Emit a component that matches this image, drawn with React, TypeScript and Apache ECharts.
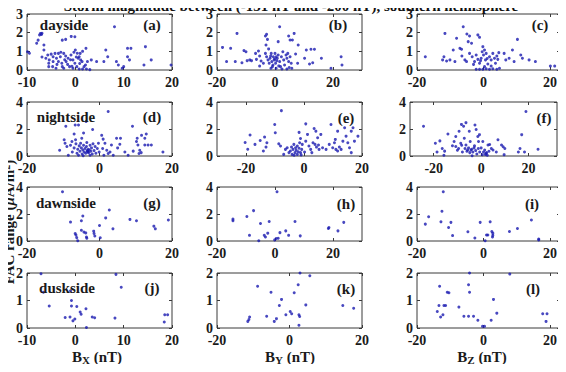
import React, { useEffect, useRef } from "react";
import * as echarts from "echarts";

const TITLE = "Storm magnitude between (-151 nT and -200 nT), southern hemisphere";
const SECTORS = ["dayside", "nightside", "dawnside", "duskside"];
const TAGS = ["(a)", "(b)", "(c)", "(d)", "(e)", "(f)", "(g)", "(h)", "(i)", "(j)", "(k)", "(l)"];
const X_COMPONENTS = ["X", "Y", "Z"];

const X_MIN = [-10, -20, -20, -20, -30, -30, -20, -20, -20, -10, -20, -20];
const X_MAX = [20, 30, 23, 20, 20, 32, 20, 30, 23, 20, 20, 23];
const X_TICKS_10 = [-10, 0, 10, 20];
const X_TICKS_20 = [-20, 0, 20];
const Y_MAX = [3, 4, 4, 2];
const Y_TICKS = [[0, 1, 2, 3], [0, 2, 4], [0, 2, 4], [0, 1, 2]];

const dataA = [[-9.9,0.98],[-9.5,0.9],[-8,1.43],[-7.7,1.6],[-7.4,1.88],[-7.2,1.96],[-6.9,1.97],[-7.0,1.9],[-6.5,1.34],[-6.5,1.07],[-6.9,0.7],[-6.1,0.63],[-5.7,0.8],[-5.4,0.54],[-5.5,0.36],[-5.0,0.85],[-4.6,0.71],[-4.6,0.45],[-4.2,0.89],[-3.9,0.63],[-3.5,0.89],[-3.5,0.45],[-3.1,0.71],[-2.8,0.36],[-2.4,0.89],[-2.7,0.18],[-1.9,0.45],[-1.5,0.63],[-1.2,0.18],[-0.9,0.8],[-0.5,0.54],[-0.1,0.36],[0.3,0.18],[0.6,0.63],[1.0,0.89],[1.4,0.45],[1.8,0.18],[2.1,0.27],[-0.5,0.09],[-2.4,0.09],[-4.0,0.09],[-4.7,0.18],[-2.7,1.6],[-2.0,1.64],[-0.85,1.8],[-0.1,1.78],[0.0,1.07],[0.4,0.9],[0.8,0.71],[1.1,0.54],[2.2,1.16],[2.5,0.45],[3.3,0.54],[4.4,0.45],[2.3,0.05],[1.5,0.05],[0.8,0.05],[3.0,0.02],[5.9,0.45],[6.3,1.07],[6.7,0.71],[8.1,2.32],[8.5,0.45],[8.9,0.27],[9.7,0.09],[10.0,0.18],[10.8,1.16],[11.5,1.16],[10.8,0.71],[11.2,0.54],[14.2,0.27],[14.5,1.25],[15.7,0.54],[19.8,0.27],[-3.0,0.95],[-2.0,0.75],[-1.0,0.55],[0.2,0.7],[-0.3,0.95],[1.5,1.0],[-3.8,0.3],[-1.6,0.3],[-0.7,0.2],[-5.5,0.18],[-2.2,0.55],[0.9,0.35]];

const dataB = [[-18.1,1.21],[-16.7,0.45],[-15.3,1.16],[-13.1,1.96],[-13.7,0.45],[-11.4,0.39],[-10.7,1.04],[-10,0.98],[-9.6,0.5],[-8.7,0.54],[-8.1,0.5],[-6.7,0.89],[-6.4,0.57],[-5.7,1.02],[-5.3,0.75],[-5.3,0.21],[-4.8,0.48],[-4,0.36],[-3.3,1.82],[-2.9,1.91],[-2.6,1.64],[-3.1,1.34],[-2.2,1.13],[-3.3,0.89],[-2.9,0.71],[-2.4,0.54],[-2,0.36],[-1.7,0.63],[-1.3,0.89],[-1.1,0.45],[-0.9,0.18],[-0.6,0.71],[-0.3,0.54],[0,0.89],[0.2,0.36],[0.4,0.71],[0.8,0.63],[1.1,0.8],[1.6,2.32],[1.1,1.52],[1.6,0.45],[1.9,0.18],[2.2,0.71],[2.7,0.98],[3,0.54],[3.3,0.27],[3.8,0.8],[4.1,0.63],[4.4,0.89],[4.7,0.45],[4.9,0.13],[5.2,0.71],[5.6,0.36],[4.7,1.82],[5.2,1.61],[6,1.61],[6.6,1.96],[7.1,0.86],[8,1.34],[7.8,0.36],[10.2,0.63],[10.8,1.07],[12.4,1.11],[13.6,1.11],[11.9,0.32],[13,0.39],[16,0.63],[19.3,0.09],[22.8,0.71],[23.1,0.27],[-1.4,0.09],[0.4,0.09],[2.4,0.05],[4.1,0.05],[5.8,0.09],[-0.7,0.27],[1.3,0.22],[-0.1,0.6],[0.6,0.5],[-1.5,0.75]];

const dataC = [[-17.5,0.71],[-12.3,0.54],[-11.9,0.71],[-11.1,0.48],[-10.1,0.54],[-11.6,1.96],[-9.1,1.07],[-8.6,0.45],[-8.1,1.7],[-7.1,1.16],[-6.6,1.11],[-6.1,2.32],[-5,1.93],[-4.2,1.82],[-4.6,1.52],[-3.6,1.43],[-1.7,1.88],[-1.2,1.75],[-5.6,0.54],[-5.1,0.45],[-4.2,0.89],[-3.4,0.71],[-2.7,0.45],[-2.2,0.8],[-1.7,0.57],[-1.2,0.36],[-0.7,0.63],[-0.4,0.98],[-0.2,1.25],[0,0.8],[0.3,1.07],[0.6,0.54],[0.8,0.89],[1.3,0.32],[1.8,0.71],[2.3,0.54],[2.8,0.89],[3.3,0.63],[3.6,0.36],[4,0.75],[4.3,0.57],[4.6,0.93],[-2.2,0.04],[-1.2,0.04],[-0.2,0.04],[0.8,0.07],[1.8,0.04],[2.8,0.07],[4,0.04],[4.8,0.09],[0.3,0.18],[2.3,0.21],[6.2,0.89],[6.7,0.54],[7.7,0.63],[8.7,1.07],[9.2,0.45],[10.2,1.64],[11.2,0.8],[11.7,0.63],[13.7,0.54],[15.6,0.45],[20.1,0.21],[21.4,0.21],[-0.9,0.5],[1.1,0.62],[-3.0,0.3],[-6.5,0.75]];

const dataD = [[-11,0.43],[-9.75,1.2],[-9.3,2.2],[-9.5,0.95],[-9,0.7],[-8.6,0.05],[-6.7,2.3],[-5.8,2.3],[-7,1.63],[-7.6,1.07],[-4.9,1.32],[-4.4,1.7],[-3.7,2.55],[-1.9,1.96],[2.4,3.3],[-8,0.8],[-7.5,0.3],[-7,0.6],[-6.5,0.9],[-6.2,0.2],[-6,0.5],[-5.6,0.75],[-5.4,0.35],[-5.2,0.95],[-5,0.6],[-4.8,0.15],[-4.6,0.45],[-4.4,0.8],[-4.2,0.3],[-4,0.55],[-3.8,0.2],[-3.6,0.7],[-3.4,0.4],[-3.3,0.36],[-3.2,0.3],[-3.1,0.5],[-3,0.25],[-2.8,0.45],[-2.6,0.8],[-2.4,0.35],[-2.2,0.6],[-2,0.15],[-1.8,0.9],[-1.5,0.4],[-1.2,0.7],[-1,0.2],[-0.6,0.55],[-0.3,0.95],[-0.1,0.3],[-5.8,0.05],[-4.5,0.02],[-2.6,0.05],[-3.5,1.0],[-6.6,1.2],[0.6,1.53],[1.0,1.25],[1.5,0.94],[0.86,0.56],[2,0.43],[2.9,0.3],[3.3,0.82],[2.4,0.18],[1.2,0.05],[4.7,1.32],[5.8,1.32],[5.6,0.87],[7,0.3],[7.9,0.05],[9.1,2.2],[9.3,0.36],[10.2,1.07],[10.6,0.82],[10.4,1.32],[11.1,0.43],[10.9,0.18],[12.5,1.32],[12.9,1.63],[12.5,0.82],[13.4,0.82],[14.3,0.82],[11.6,1.53],[17.5,0.3],[5.0,0.6],[3.8,0.05],[11.5,0.25]];

const dataE = [[-20.3,1.0],[-19.4,0.5],[-18.6,1.55],[-16.9,0.86],[-15.1,1.15],[-13.6,1.4],[-14,0.37],[-12.8,0.98],[-13.1,0.66],[-10.1,2.33],[-9.9,1.72],[-8.7,0.9],[-8.1,0.74],[-7.8,3.36],[-7,0.12],[-6.4,0.49],[-5.8,0.61],[-5.2,0.25],[-4.7,0.37],[-4.3,0.66],[-4.1,0.12],[-3.8,0.49],[-3.5,0.86],[-3.1,0.25],[-2.9,0.61],[-2.7,0.42],[-2.3,0.74],[-2.3,0.12],[-2,0.32],[-1.7,0.57],[-1.5,0.98],[-1.2,0.25],[-0.8,0.49],[-0.6,0.86],[-1.7,1.75],[-1.2,1.3],[0.6,2.38],[1.2,1.6],[0.6,1.1],[1.7,0.74],[2.3,0.49],[2.7,0.25],[3.5,2.04],[4.1,1.84],[4.7,1.35],[3.1,0.98],[3.8,0.86],[4.3,0.66],[5,0.81],[5.2,0.49],[5.8,1.6],[6.4,0.61],[7.6,0.49],[8.7,0.86],[9.3,2.33],[10.5,0.98],[10.8,1.23],[11,0.49],[9.9,0.61],[11.6,1.84],[12.8,0.49],[13.4,1.1],[14,2.09],[14.5,1.47],[15.1,0.98],[15.7,0.61],[16.3,1.84],[16.9,2.09],[16.3,0.25],[17.4,1.1],[18.6,1.47],[11.6,0.37],[12.2,0.66],[-3.4,0.05],[-1.0,0.08],[0.2,0.3]];

const dataF = [[-24.3,2.2],[-19.3,0.94],[-18.6,0.3],[-17.4,1.12],[-16.4,0.56],[-15.4,0.36],[-15.7,0.05],[-14,1.63],[-12.1,0.76],[-11.4,1.07],[-10.7,1.45],[-10.7,0.7],[-10,0.43],[-9.3,1.83],[-8.6,0.94],[-8.3,2.34],[-7.4,2.2],[-7.1,1.32],[-6.4,2.47],[-7.9,0.3],[-6.4,0.82],[-5.7,0.45],[-5,1.83],[-4.6,1.07],[-4.3,0.45],[-2.6,2.3],[-2.1,1.96],[-1.4,1.45],[-0.7,1.58],[-1.1,1.07],[-3,0.6],[-6.8,0.55],[-6,0.35],[-5.3,0.6],[-4.8,0.25],[-4,0.5],[-3.5,0.3],[-2.8,0.75],[-2.3,0.4],[-1.8,0.15],[-1.2,0.55],[-0.6,0.3],[0,0.6],[0.5,0.1],[1.0,0.3],[1.5,0.45],[2.1,0.18],[2.3,0.25],[1.8,0.12],[2.6,0.05],[-3.8,0.02],[3.3,0.35],[0.7,1.07],[2.9,0.82],[3.6,0.85],[4.3,0.56],[5,0.45],[6.4,0.3],[7.1,1.2],[8.6,0.82],[9.3,0.69],[10,0.56],[9.7,0.1],[15.7,0.3],[16.4,0.56],[17.1,1.58],[18.3,0.3],[18.9,3.3],[24,0.5],[-9.5,0.55],[-8.2,0.8]];

const dataG = [[-10.2,3.65],[-8,1.4],[-6.7,0.55],[-6.5,0.45],[-6.3,0.25],[-6,0.02],[-5,1.5],[-4.6,1.85],[-5,0.8],[-4.3,0.66],[-3.8,0.6],[-3.6,0.3],[-3.5,0.2],[-1.6,0.73],[-1.5,0.56],[-1.3,0.37],[0,1.15],[0.2,0.24],[1.7,1.71],[2.7,2.3],[3.7,0.9],[8.4,1.6],[10.2,1.5],[15,1.1],[15.4,0.9],[19,1.55]];

const dataH = [[-14.5,1.5],[-14.5,1.62],[-9.7,1.82],[-7.4,2.25],[-8.8,0.42],[-5.6,0.02],[-5,1.3],[-3.7,0.42],[-3.3,0.3],[-2.5,0.58],[-2,1.45],[-0.1,0.08],[0.4,0.18],[1.1,0.2],[1.7,0.62],[0.7,3.65],[3.7,0.75],[4.7,0.42],[6.9,1.45],[8.7,0.38],[18.4,0.93],[18.6,1.0],[21.7,0.75],[23.7,1.38]];

const dataI = [[-17.5,1.25],[-16.5,1.8],[-12.5,2.2],[-12.8,1.42],[-12.1,3.65],[-10.5,1.0],[-9.8,1.38],[-9.3,0.4],[-4.7,0.68],[-2.6,0.22],[-1.0,1.38],[0.5,0.02],[0.9,0.45],[1.3,0.45],[2.0,1.42],[2.5,0.7],[2.8,0.42],[2.7,0.3],[2.8,0.58],[7.8,0.7],[10.2,0.93],[14.4,1.55],[16.6,0.08],[16.6,0.15]];

const dataJ = [[-7.1,1.97],[-6.6,1.3],[-5.4,0.8],[-2.1,0.38],[-1.1,0.4],[-1.0,1.35],[-0.8,1.0],[-0.8,0.8],[-0.5,0.26],[-0.1,0.33],[0.3,0.78],[1.0,0.58],[1.2,0.5],[2.2,0.7],[2.3,0.02],[3.5,0.4],[4.0,0.37],[8.2,0.36],[8.4,1.95],[9.5,1.48],[18.5,0.48],[19.1,0.48],[18.4,0.22]];

const dataK = [[-11,0.4],[-11.2,0.31],[-11.5,0.24],[-8.8,1.52],[-6.3,0.43],[-5.1,1.3],[-4.2,0.24],[-3.6,0.34],[-2.8,0.82],[-2.2,1.04],[-1,0.48],[0.2,0.6],[0.6,0.52],[1.3,1.28],[2.4,1.57],[2.6,0.48],[2.8,0.42],[2.6,0.1],[2.9,2.0],[5.6,1.9],[4.5,0.84],[14.7,0.82],[17.7,0.72]];

const dataL = [[-13.2,1.52],[-13.4,0.82],[-13.9,0.6],[-12.9,0.4],[-12.2,0.48],[-11.9,0.82],[-11.4,0.82],[-10.9,1.3],[-10.4,1.28],[-7.4,0.76],[-5.9,0.43],[-4.5,1.57],[-4.2,1.3],[-4.5,0.43],[-4.2,2.0],[-3,0.43],[-1.7,0.28],[-0.3,0.06],[0.3,0.06],[2.3,0.28],[3,1.04],[4,0.54],[7.9,1.96],[17.8,0.52],[19.1,0.52],[18.8,0.24]];

const PANEL_DATA = [dataA, dataB, dataC, dataD, dataE, dataF, dataG, dataH, dataI, dataJ, dataK, dataL];

// layout (pixels)
const COL_LEFT = [27, 217, 417];
const COL_WIDTH = [145, 145, 143];
const ROW_TOP = [14, 102, 187, 273];
const ROW_HEIGHT = [56, 54, 54, 55];

const FONT = '"Liberation Serif", "Times New Roman", serif';
const AXIS_COLOR = "#3a3a3a";
const TEXT_COLOR = "#1a1a1a";
const DOT_COLOR = "#1a1ab0";

function buildOption() {
  const grids: any[] = [];
  const xAxes: any[] = [];
  const yAxes: any[] = [];
  const series: any[] = [];
  const graphics: any[] = [];

  for (let i = 0; i < 12; i++) {
    const r = Math.floor(i / 3);
    const c = i % 3;
    let left = COL_LEFT[c];
    let width = COL_WIDTH[c];
    if (i === 5) { left = 410; width = 147; }
    grids.push({
      left, top: ROW_TOP[r], width, height: ROW_HEIGHT[r],
      show: true, borderColor: AXIS_COLOR, borderWidth: 1, backgroundColor: "transparent",
      containLabel: false,
    });
    const xt = X_MIN[i] === -10 ? X_TICKS_10 : X_TICKS_20;
    const yt = Y_TICKS[r];
    const lab = {
      fontFamily: FONT, fontWeight: "bold", fontSize: 14, color: TEXT_COLOR,
    };
    const tick = { show: true, inside: true, length: 3, lineStyle: { color: AXIS_COLOR } };
    xAxes.push({
      type: "value", gridIndex: i, position: "bottom", min: X_MIN[i], max: X_MAX[i],
      axisLine: { show: false, onZero: false },
      axisTick: { ...tick, customValues: xt },
      axisLabel: { ...lab, margin: 5, customValues: xt, hideOverlap: false },
      splitLine: { show: false },
    });
    xAxes.push({
      type: "value", gridIndex: i, position: "top", min: X_MIN[i], max: X_MAX[i],
      axisLine: { show: false, onZero: false },
      axisTick: { ...tick, customValues: xt },
      axisLabel: { show: false },
      splitLine: { show: false },
    });
    yAxes.push({
      type: "value", gridIndex: i, position: "left", min: 0, max: Y_MAX[r],
      axisLine: { show: false, onZero: false },
      axisTick: { ...tick, customValues: yt },
      axisLabel: { ...lab, margin: 4, customValues: yt },
      splitLine: { show: false },
    });
    yAxes.push({
      type: "value", gridIndex: i, position: "right", min: 0, max: Y_MAX[r],
      axisLine: { show: false, onZero: false },
      axisTick: { ...tick, customValues: yt },
      axisLabel: { show: false },
      splitLine: { show: false },
    });
    series.push({
      type: "scatter",
      xAxisIndex: 2 * i, yAxisIndex: 2 * i,
      data: PANEL_DATA[i],
      symbol: "circle", symbolSize: 3,
      itemStyle: { color: DOT_COLOR },
      clip: false,
      z: 3,
    });
  }

  const sectorPos = [[64, 25], [66, 117], [66, 203], [67, 288]];
  const tagPos = [
    [152, 25], [338, 25], [540, 25],
    [152, 117], [346, 118], [544, 118],
    [152, 203], [346, 204], [532, 204],
    [152, 288], [346, 289], [533, 289],
  ];
  SECTORS.forEach((s, r) => {
    graphics.push({
      type: "text", x: sectorPos[r][0], y: sectorPos[r][1], z: 10,
      style: { text: s, font: `bold 15px ${FONT}`, fill: TEXT_COLOR, textAlign: "center", textVerticalAlign: "middle" },
    });
  });
  TAGS.forEach((t, i) => {
    graphics.push({
      type: "text", x: tagPos[i][0], y: tagPos[i][1], z: 10,
      style: { text: t, font: `bold 15px ${FONT}`, fill: TEXT_COLOR, textAlign: "center", textVerticalAlign: "middle" },
    });
  });
  graphics.push({
    type: "text", x: 291, y: 6, z: 20,
    style: { text: TITLE, font: `bold 15px ${FONT}`, fill: "#111", textAlign: "center", textVerticalAlign: "middle" },
  });
  graphics.push({
    type: "text", x: 9, y: 222, rotation: Math.PI / 2, z: 10,
    style: {
      text: "{n|FAC range (}{m|μ}{n|A/m}{s|2}{n|)}",
      textAlign: "center", textVerticalAlign: "middle", fill: TEXT_COLOR,
      rich: {
        n: { font: `bold 15px ${FONT}`, fill: TEXT_COLOR },
        m: { font: `italic bold 15px ${FONT}`, fill: TEXT_COLOR },
        s: { font: `bold 10px ${FONT}`, fill: TEXT_COLOR, verticalAlign: "top", padding: [0, 0, 6, 0] },
      },
    },
  });
  const xlabX = [97, 290, 482];
  X_COMPONENTS.forEach((comp, c) => {
    graphics.push({
      type: "text", x: xlabX[c], y: 357, z: 10,
      style: {
        text: `{b|B}{s|${comp}}{b| (nT)}`,
        textAlign: "center", textVerticalAlign: "middle", fill: TEXT_COLOR,
        rich: {
          b: { font: `bold 15px ${FONT}`, fill: TEXT_COLOR, lineHeight: 16 },
          s: { font: `bold 11px ${FONT}`, fill: TEXT_COLOR, lineHeight: 16, padding: [6, 0, 0, 0] },
        },
      },
    });
  });

  return {
    animation: false,
    backgroundColor: "#fff",
    grid: grids,
    xAxis: xAxes,
    yAxis: yAxes,
    series,
    graphic: graphics,
  };
}

export default function App() {
  const ref = useRef<HTMLDivElement>(null);
  useEffect(() => {
    if (!ref.current) return;
    const chart = echarts.init(ref.current, null, { renderer: "svg" });
    chart.setOption(buildOption() as any);
    return () => chart.dispose();
  }, []);
  return <div ref={ref} style={{ width: 566, height: 372, margin: -8 }} />;
}
